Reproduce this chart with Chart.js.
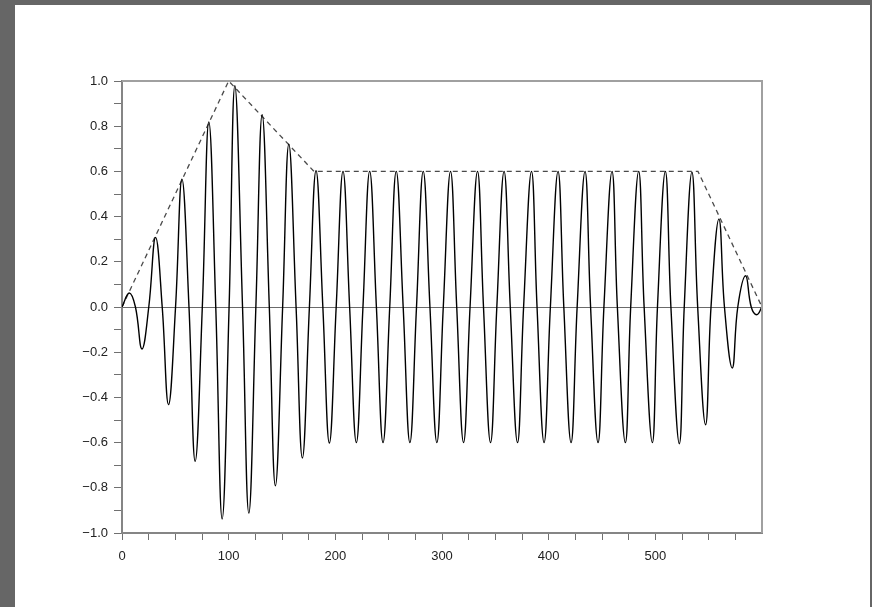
<!DOCTYPE html>
<html>
<head>
<meta charset="utf-8">
<script src="https://cdn.jsdelivr.net/npm/chart.js@4/dist/chart.umd.min.js"></script>
<style>
  html, body { margin: 0; padding: 0; background: #666666; width: 872px; height: 607px; overflow: hidden; }
  #frame { position: absolute; left: 15px; top: 5px; width: 855px; height: 602px; background: #ffffff; }
  canvas { display: block; }
</style>
</head>
<body>
<div id="frame"><canvas id="c" width="855" height="602"></canvas></div>
<script>
// ---- data ----
const peakX = [6.8, 31.5, 56.2, 81.4, 105.8, 131.4, 156.4, 181.9, 207.2, 232.2, 257.1, 282.4,
               308.0, 333.3, 358.2, 383.9, 408.8, 434.1, 459.4, 484.4, 509.4, 534.3, 559.6, 584.6];
const peakY = [0.062, 0.308, 0.566, 0.819, 0.979, 0.851, 0.720, 0.603, 0.600, 0.600, 0.600, 0.600,
               0.600, 0.600, 0.600, 0.600, 0.600, 0.600, 0.600, 0.600, 0.600, 0.597, 0.389, 0.138];
const troughX = [18.7, 43.6, 68.6, 93.9, 118.9, 143.8, 169.1, 194.4, 219.7, 244.7, 269.9, 295.2,
                 320.2, 345.5, 370.8, 395.7, 421.0, 446.3, 471.9, 497.2, 522.5, 547.1, 572.1, 595.1];
const troughY = [-0.186, -0.432, -0.683, -0.938, -0.912, -0.791, -0.668, -0.602, -0.600, -0.600, -0.600, -0.600,
                 -0.600, -0.600, -0.600, -0.600, -0.600, -0.600, -0.600, -0.600, -0.605, -0.521, -0.270, -0.034];
const zeroX = [0, 12.6, 25.1, 37.7, 50.2, 62.8, 75.3, 87.9, 100.4, 113.0, 125.5, 138.1, 150.6, 163.2,
               175.7, 188.3, 200.8, 213.4, 225.9, 238.5, 251.0, 263.6, 276.1, 288.7, 301.2, 313.8,
               326.3, 338.9, 351.4, 364.0, 376.5, 389.1, 401.6, 414.2, 426.7, 439.3, 451.8, 464.4,
               476.9, 489.5, 502.0, 514.6, 527.1, 539.7, 552.2, 564.8, 577.3, 589.9, 600];
const envelopeX = [0, 100, 180, 540, 600];
const envelopeY = [0, 1.0, 0.6, 0.6, 0];
const xTickLabels = [0, 100, 200, 300, 400, 500];
const yTickLabels = [-1.0, -0.8, -0.6, -0.4, -0.2, 0.0, 0.2, 0.4, 0.6, 0.8, 1.0];

// ---- build tables ----
const signal = [];
peakX.forEach((x, i) => signal.push({ x: x, y: peakY[i] }));
troughX.forEach((x, i) => signal.push({ x: x, y: troughY[i] }));
zeroX.forEach(x => signal.push({ x: x, y: 0 }));
signal.sort((a, b) => a.x - b.x);
const envelope = envelopeX.map((x, i) => ({ x: x, y: envelopeY[i] }));

function fmtY(v) {
  const s = Math.abs(v).toFixed(1);
  return v < -1e-9 ? '\u2212' + s : s;
}

const frameBorder = {
  id: 'frameBorder',
  afterDatasetsDraw(chart) {
    const { ctx, chartArea: a } = chart;
    ctx.save();
    ctx.strokeStyle = '#a0a0a0';
    ctx.lineWidth = 2;
    ctx.beginPath();
    ctx.moveTo(a.left, a.top);
    ctx.lineTo(a.right, a.top);
    ctx.lineTo(a.right, a.bottom);
    ctx.stroke();
    ctx.restore();
  }
};

const tickFont = { family: 'Liberation Sans', size: 13 };

new Chart(document.getElementById('c'), {
  type: 'line',
  data: {
    datasets: [
      {
        data: signal,
        borderColor: '#000000',
        borderWidth: 1.4,
        pointRadius: 0,
        fill: false,
        tension: 0.42
      },
      {
        data: envelope,
        borderColor: '#4a4a4a',
        borderWidth: 1.3,
        borderDash: [5, 4],
        pointRadius: 0,
        fill: false,
        tension: 0
      }
    ]
  },
  options: {
    responsive: false,
    animation: false,
    devicePixelRatio: 1,
    layout: { padding: { left: 0, top: 76, right: 108, bottom: 0 } },
    plugins: { legend: { display: false }, tooltip: { enabled: false } },
    scales: {
      x: {
        type: 'linear',
        min: 0,
        max: 600,
        afterFit(scale) { scale.height = 74; },
        border: { display: true, color: '#858585', width: 2 },
        grid: {
          drawOnChartArea: false,
          drawTicks: true,
          tickLength: 7,
          tickWidth: 1,
          tickColor: (ctx) => (ctx.tick && ctx.tick.value >= 600 ? 'rgba(0,0,0,0)' : '#707070')
        },
        ticks: {
          stepSize: 25,
          autoSkip: false,
          maxRotation: 0,
          padding: 9,
          color: '#222222',
          font: tickFont,
          callback: (v) => (xTickLabels.includes(Math.round(v)) && Math.abs(v - Math.round(v)) < 1e-6 ? String(Math.round(v)) : '')
        }
      },
      y: {
        type: 'linear',
        min: -1,
        max: 1,
        afterFit(scale) { scale.width = 107; },
        border: { display: true, color: '#858585', width: 2 },
        grid: {
          drawOnChartArea: true,
          drawTicks: true,
          tickLength: 8,
          lineWidth: 1,
          color: (ctx) => (ctx.tick && Math.abs(ctx.tick.value) < 1e-9 ? '#6a6a6a' : 'rgba(0,0,0,0)'),
          tickColor: '#707070'
        },
        ticks: {
          stepSize: 0.1,
          autoSkip: false,
          padding: 6,
          color: '#222222',
          font: tickFont,
          callback: (v) => {
            const hit = yTickLabels.find(t => Math.abs(t - v) < 1e-6);
            return hit === undefined ? '' : fmtY(hit);
          }
        }
      }
    }
  },
  plugins: [frameBorder]
});
</script>
</body>
</html>
